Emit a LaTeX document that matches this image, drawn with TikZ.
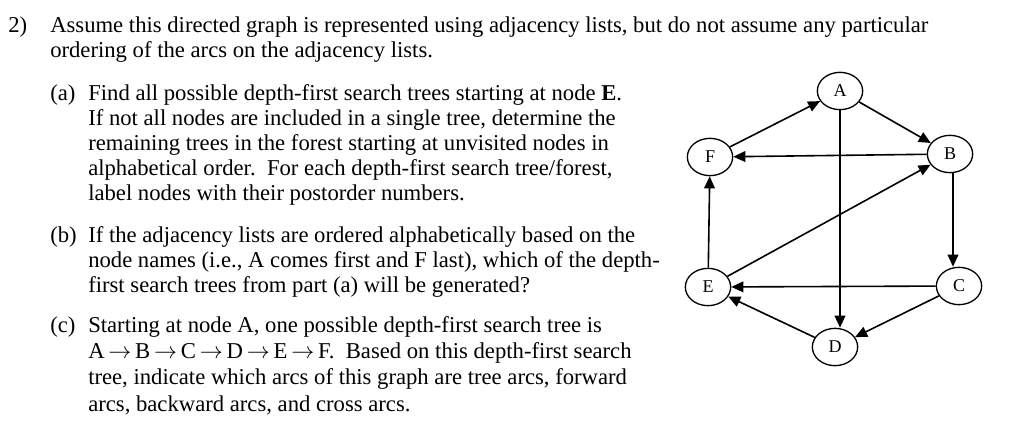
\documentclass[tikz,border=0pt]{standalone}
\usepackage{fontspec}
\setmainfont{Liberation Serif}
\usetikzlibrary{arrows.meta,shapes.geometric}
\begin{document}
\begin{tikzpicture}[x=0.75pt,y=-0.75pt,
  nd/.style={draw,ellipse,line width=1pt,minimum width=34pt,minimum height=28pt,inner sep=0pt,font=\fontsize{13.5}{13.5}\selectfont},
  ar/.style={line width=1.2pt,-{Triangle[length=9pt,width=8pt]}},
  tx/.style={anchor=west,inner sep=0pt,font=\fontsize{17}{17}\selectfont}]
\useasboundingbox (0,0) rectangle (1024,435);
\node[tx] (l0) at (8,27) {2)};
\node[tx] (l1) at (50,27) {Assume this directed graph is represented using adjacency lists, but do not assume any particular};
\node[tx] (l2) at (50,52) {ordering of the arcs on the adjacency lists.};
\node[tx] (a0) at (50,95) {(a)};
\node[tx] (a1) at (88,95) {Find all possible depth-first search trees starting at node \textbf{E}.};
\node[tx] (a2) at (88,120) {If not all nodes are included in a single tree, determine the};
\node[tx] (a3) at (88,145) {remaining trees in the forest starting at unvisited nodes in};
\node[tx] (a4) at (88,170) {alphabetical order.\ \ For each depth-first search tree/forest,};
\node[tx] (a5) at (88,195) {label nodes with their postorder numbers.};
\node[tx] (b0) at (50,237) {(b)};
\node[tx] (b1) at (88,237) {If the adjacency lists are ordered alphabetically based on the};
\node[tx] (b2) at (88,262) {node names (i.e., A comes first and F last), which of the depth-};
\node[tx] (b3) at (88,287) {first search trees from part (a) will be generated?};
\node[tx] (c0) at (50,327) {(c)};
\node[tx] (c1) at (88,327) {Starting at node A, one possible depth-first search tree is};
\node[tx] (c2) at (88,353) {A\,$\rightarrow$\,B\,$\rightarrow$\,C\,$\rightarrow$\,D\,$\rightarrow$\,E\,$\rightarrow$\,F.\ \ Based on this depth-first search};
\node[tx] (c3) at (88,379) {tree, indicate which arcs of this graph are tree arcs, forward};
\node[tx] (c4) at (88,405) {arcs, backward arcs, and cross arcs.};

\node[nd] (A) at (840,91) {A};
\node[nd] (B) at (950,154) {B};
\node[nd] (C) at (959,286) {C};
\node[nd] (D) at (835,347) {D};
\node[nd] (E) at (708,287) {E};
\node[nd] (F) at (710,157) {F};
\draw[ar] (F) -- (A);
\draw[ar] (A) -- (B);
\draw[ar] (B) -- (F);
\draw[ar] (B.south) ++(3,0) coordinate (bs) -- (bs |- C.north);
\draw[ar] (C) -- (E);
\draw[ar] (C) -- (D);
\draw[ar] (D) -- (E);
\draw[ar] (E) -- (F);
\draw[ar] (E) -- (B);
\draw[ar] (A.south) -- (A.south |- D.north);
\end{tikzpicture}
\end{document}
